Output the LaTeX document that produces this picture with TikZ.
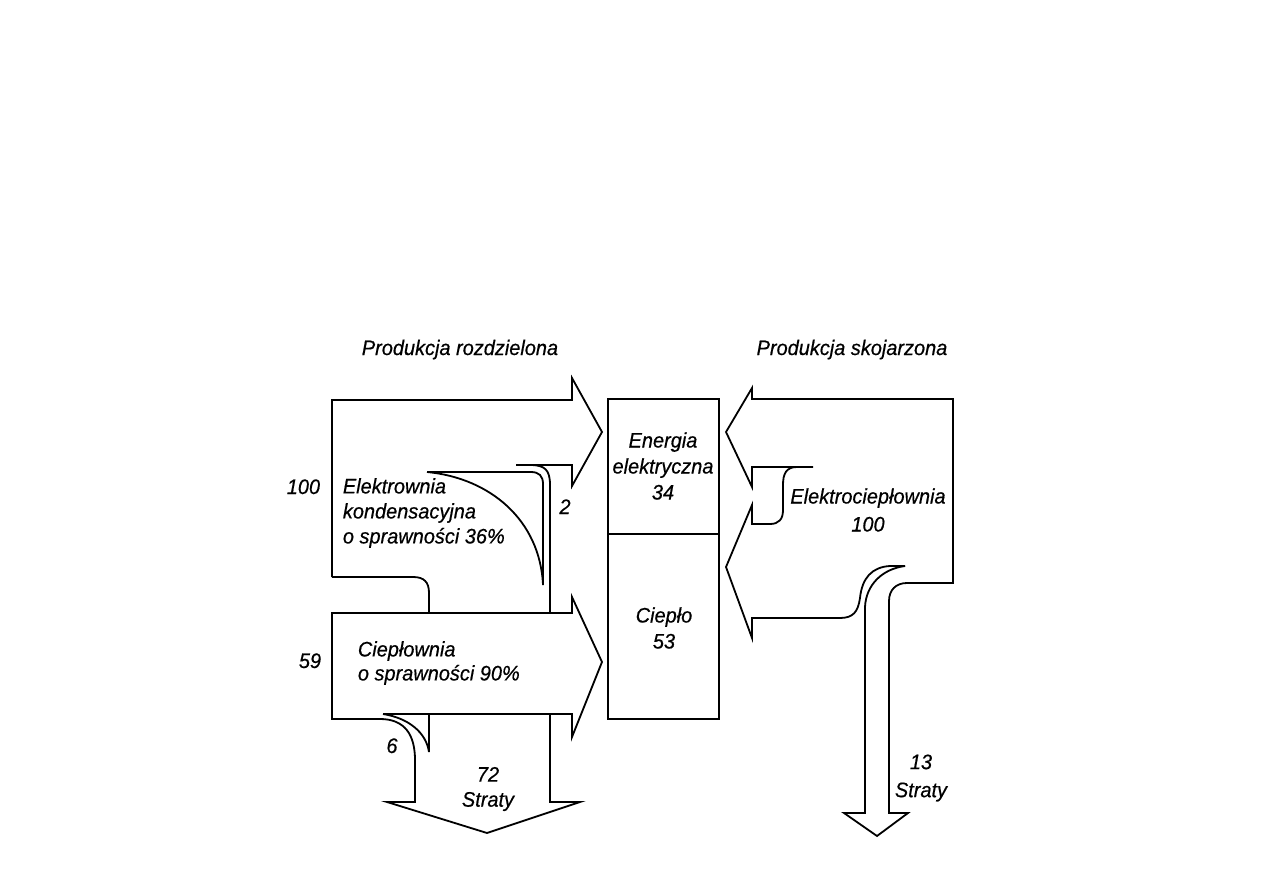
\documentclass[tikz,border=0pt]{standalone}
\usepackage{fontspec}
\setmainfont{Liberation Sans}[FakeStretch=0.95,FakeBold=0.5]
\begin{document}
\begin{tikzpicture}[x=1pt,y=-1pt,line width=1.8pt,
  lbl/.style={font=\fontsize{21}{25}\selectfont\itshape, inner sep=0pt},
  sp23/.style={font=\fontsize{21}{24}\selectfont\itshape},
  sp26/.style={font=\fontsize{21}{26}\selectfont\itshape},
  sp28/.style={font=\fontsize{21}{28}\selectfont\itshape}]
\useasboundingbox (0,0) rectangle (1263,893);
% ---- Produkcja rozdzielona ----
% top arrow with the 100 block
\draw (332,577) -- (332,400) -- (572,400) -- (572,378) -- (602,432) -- (572,486) -- (572,465) -- (516,465);
% outer line of the stream 2
\draw (530,465) .. controls (545,465) and (550,470) .. (550,485) -- (550,613);
% bottom corner of the 100 block
\draw (332,577) -- (413,577) .. controls (424,577) and (429,582) .. (429,593) -- (429,613);
% horn of the losses of the power plant
\draw (427,472) -- (531,472) .. controls (539,472) and (543,476) .. (543,484) -- (543,585)
      .. controls (540,520) and (490,478) .. (427,472);
% heat plant arrow and losses arrow
\draw (550,714) -- (550,802) -- (580,802) -- (487,833) -- (387,802) -- (415,802) -- (415,760)
      .. controls (415,735) and (405,719) .. (380,719) -- (332,719) -- (332,613) -- (572,613)
      -- (572,597) -- (602,662) -- (572,737) -- (572,714) -- (383,714);
% horn of the losses 6
\draw (429,714) -- (429,752) .. controls (426,732) and (408,718) .. (383,714);
% ---- central box ----
\draw (608,399) rectangle (719,719);
\draw (608,534) -- (719,534);
% ---- Produkcja skojarzona ----
\draw (813,467) -- (752,467) -- (752,487) -- (726,432) -- (752,388) -- (752,399) -- (953,399)
      -- (953,583) -- (907,583) .. controls (896,583) and (889,590) .. (889,601) -- (889,813)
      -- (908,813) -- (877,836) -- (844,813) -- (865,813) -- (865,607)
      .. controls (866,585) and (882,569) .. (905,566);
\draw (797,467) .. controls (786,467) and (783,474) .. (783,485) -- (783,510)
      .. controls (783,519) and (779,524) .. (770,524) -- (752,524) -- (752,505) -- (726,567)
      -- (752,638) -- (752,618) -- (840,618) .. controls (853,618) and (858,612) .. (860,598)
      .. controls (862,578) and (872,567) .. (890,566) -- (905,566);
% ---- texts ----
\node[lbl, anchor=base] (prodR) at (460,355) {Produkcja rozdzielona};
\node[lbl, anchor=base] (prodS) at (852,355) {Produkcja skojarzona};
\node[lbl, anchor=base east] (in100) at (321,494) {100};
\node[lbl, anchor=west, align=left] (elk) at (342,513) {Elektrownia\\kondensacyjna\\o sprawności 36\%};
\node[lbl, anchor=base] (two) at (565,514) {2};
\node[lbl, sp26, align=center] (ee) at (663,466) {Energia\\elektryczna\\34};
\node[lbl, sp26, align=center] (cp) at (664,628) {Ciepło\\53};
\node[lbl, sp28, align=center] (ecp) at (868,510) {Elektrociepłownia\\100};
\node[lbl, anchor=base east] (in59) at (322,668) {59};
\node[lbl, sp23, anchor=west, align=left] (cpl) at (357,663) {Ciepłownia\\o sprawności 90\%};
\node[lbl, anchor=base] (six) at (392,753) {6};
\node[lbl, align=center] (s72) at (488,789) {72\\Straty};
\node[lbl, sp28, align=center] (s13) at (921,778) {13\\Straty};
\end{tikzpicture}
\end{document}
